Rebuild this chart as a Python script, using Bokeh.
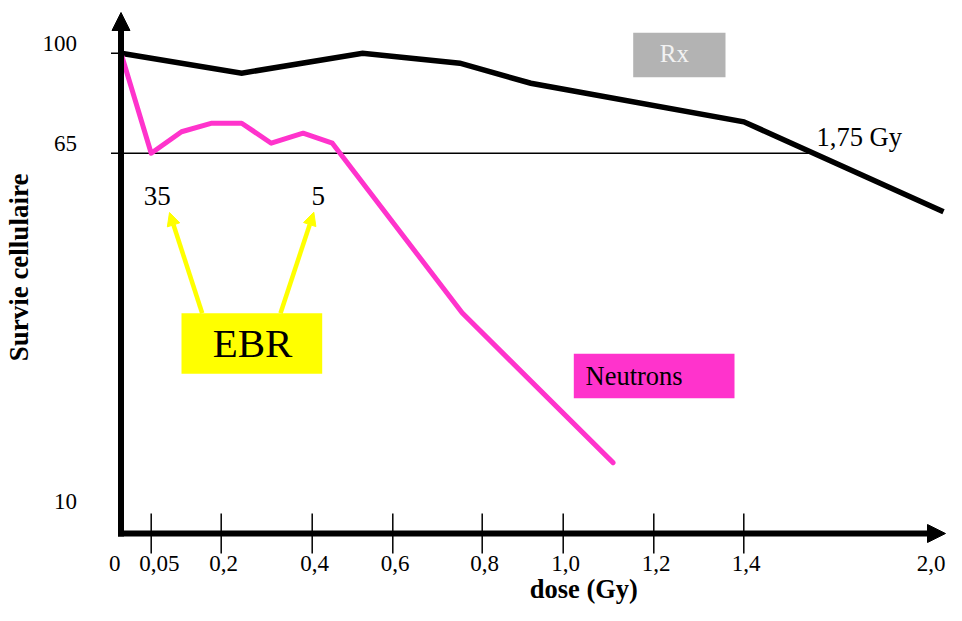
import numpy as np
from bokeh.plotting import figure
from bokeh.models import Range1d, Arrow, NormalHead
from bokeh.core.properties import value
from bokeh.embed import file_html
from bokeh.resources import INLINE

# ---------------- data ----------------
dose_ticks = [0, 0.05, 0.2, 0.4, 0.6, 0.8, 1.0, 1.2, 1.4, 2.0]
dose_tick_labels = ["0", "0,05", "0,2", "0,4", "0,6", "0,8", "1,0", "1,2", "1,4", "2,0"]
surv_ticks = [100, 65, 10]
surv_tick_labels = ["100", "65", "10"]

rx_dose = [0, 0.245, 0.525, 0.75, 0.92, 1.4, 2.0]
rx_surv = [100, 93, 100, 96.5, 89.5, 76, 56]

neutron_dose = [0, 0.05, 0.115, 0.18, 0.245, 0.31, 0.38, 0.45, 0.755, 1.11]
neutron_surv = [100, 65, 72.5, 75.5, 75.5, 68.5, 72, 68.5, 40.5, 17.5]

ebr_dose = [0.05, 0.4]
ebr_labels = ["35", "5"]
ref_surv = 65
ref_label = "1,75 Gy"

# ---------------- layout (schematic, hand-drawn axes) ----------------
W, H = 946, 605
dose_tick_pos = [120.5, 150.7, 220.7, 311.7, 392.3, 481.7, 562.7, 653.3, 743.3, 943]
surv_tick_pos = [52.7, 152.7, 511]
x_axis_y = 533
FONT = value("Liberation Serif")
MAGENTA = "#ff33cc"
YELLOW = "#ffff00"
BL = 0.38  # baseline correction (fraction of font size) for the svg text placement


def X(d):
    return np.interp(d, dose_ticks, dose_tick_pos)


def Y(s):
    return np.interp(s, surv_ticks[::-1], surv_tick_pos[::-1])


def ty(y, size):
    return np.asarray(y, dtype=float) - BL * size


p = figure(width=W, height=H, x_range=Range1d(0, W), y_range=Range1d(H, 0),
           output_backend="svg", toolbar_location=None,
           x_axis_type=None, y_axis_type=None, min_border=0)
p.outline_line_color = None
p.background_fill_color = "white"
p.border_fill_color = "white"

rx_x, rx_y = X(rx_dose), Y(rx_surv)
ne_x, ne_y = X(neutron_dose), Y(neutron_surv)

# reference line at 65 % up to the Rx curve
x_cross = float(np.interp(Y(ref_surv), rx_y[2:], rx_x[2:]))
p.segment(x0=[X(0) - 10], y0=[Y(ref_surv)], x1=[x_cross], y1=[Y(ref_surv)],
          line_width=1.5, line_color="black")
# tick at 100
p.segment(x0=[X(0) - 10], y0=[Y(100)], x1=[X(0)], y1=[Y(100)],
          line_width=1.5, line_color="black")
# x ticks (crossing the axis)
inner = np.array(dose_ticks[1:-1])
p.segment(x0=X(inner), y0=[x_axis_y - 20] * len(inner), x1=X(inner),
          y1=[x_axis_y + 20] * len(inner), line_width=1.5, line_color="black")

# curves
p.line(rx_x, rx_y, line_width=5.5, line_color="black", line_join="miter")
p.line(ne_x, ne_y, line_width=5, line_color=MAGENTA, line_join="round", line_cap="round")

# axes with arrows
p.add_layout(Arrow(end=NormalHead(size=18, fill_color="black", line_color="black"),
                   x_start=X(0), y_start=x_axis_y + 3, x_end=X(0), y_end=12,
                   line_width=6, line_color="black"))
p.add_layout(Arrow(end=NormalHead(size=18, fill_color="black", line_color="black"),
                   x_start=X(0) - 3, y_start=x_axis_y, x_end=945, y_end=x_axis_y,
                   line_width=6, line_color="black"))

# tick labels
n = len(dose_ticks) - 1
p.text(x=X(dose_ticks[:-1]) - 12, y=ty([x_axis_y + 38.5] * n, 23),
       text=dose_tick_labels[:-1], text_font=FONT, text_font_size="23px",
       text_align="left", text_baseline="alphabetic", text_color="black")
p.text(x=[W - 1], y=ty([x_axis_y + 38.5], 23), text=dose_tick_labels[-1:],
       text_font=FONT, text_font_size="23px", text_align="right",
       text_baseline="alphabetic", text_color="black")
p.text(x=[76.5] * len(surv_ticks), y=ty(Y(surv_ticks) - 1, 23), text=surv_tick_labels,
       text_font=FONT, text_font_size="23px", text_align="right",
       text_baseline="alphabetic", text_color="black")

# axis titles
p.text(x=[28.3 - BL * 27], y=[267], text=["Survie cellulaire"], angle=np.pi / 2,
       text_font=FONT, text_font_size="27px", text_font_style="bold",
       text_align="center", text_baseline="alphabetic", text_color="black")
p.text(x=[583.3], y=ty([599], 26.5), text=["dose (Gy)"],
       text_font=FONT, text_font_size="26.5px", text_font_style="bold",
       text_align="center", text_baseline="alphabetic", text_color="black")

# EBR annotation
p.text(x=X(ebr_dose) + 6, y=ty([206, 206], 27), text=ebr_labels, text_font=FONT,
       text_font_size="27px", text_align="center", text_baseline="alphabetic",
       text_color="black")
p.quad(left=[181], right=[321.7], top=[312.7], bottom=[373.3],
       fill_color=YELLOW, line_color=None)
for xs, xe, ye in [(201.7, 169, 212), (280, 313.3, 211.7)]:
    p.add_layout(Arrow(end=NormalHead(size=13, fill_color=YELLOW, line_color=YELLOW),
                       x_start=xs, y_start=312.7, x_end=xe, y_end=ye,
                       line_width=4.5, line_color=YELLOW))
p.text(x=[252], y=ty([358.3], 41), text=["EBR"], text_font=FONT, text_font_size="41px",
       text_align="center", text_baseline="alphabetic", text_color="black")

# Rx legend box
p.quad(left=[632.7], right=[725], top=[32.3], bottom=[76.7],
       fill_color="#b3b3b3", line_color=None)
p.text(x=[673.8], y=ty([62.3], 25), text=["Rx"], text_font=FONT, text_font_size="25px",
       text_align="center", text_baseline="alphabetic", text_color="#f2f2f2")

# Neutrons legend box
p.quad(left=[573.3], right=[734], top=[353.3], bottom=[397.7],
       fill_color=MAGENTA, line_color=None)
p.text(x=[585], y=ty([385.7], 26.5), text=["Neutrons"], text_font=FONT,
       text_font_size="26.5px", text_align="left", text_baseline="alphabetic",
       text_color="black")

# 1,75 Gy label
p.text(x=[816], y=ty([146.7], 26.5), text=[ref_label], text_font=FONT,
       text_font_size="26.5px", text_align="left", text_baseline="alphabetic",
       text_color="black")

open("out.html", "w").write(file_html(p, INLINE))
